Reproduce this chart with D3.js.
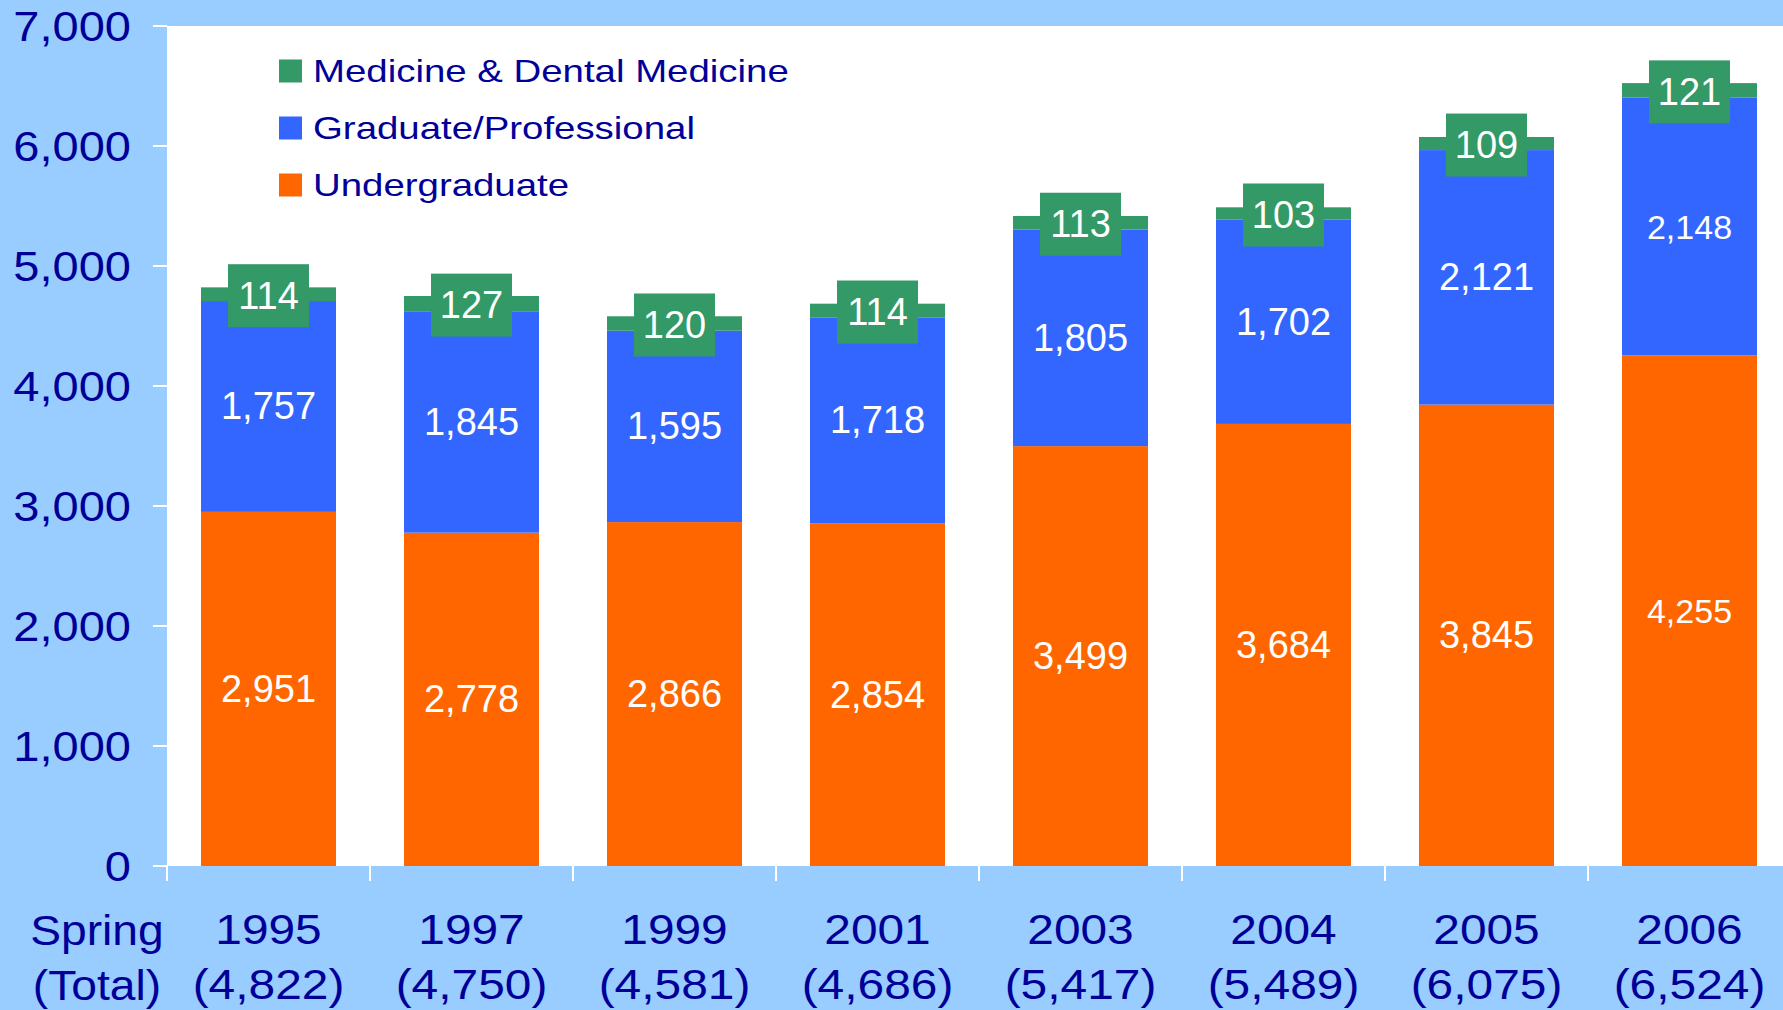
<!DOCTYPE html>
<meta charset="utf-8">
<script src="https://d3js.org/d3.v7.min.js"></script>
<style>
  body { margin: 0; background: #99ccff; }
  svg { display: block; font-family: "Liberation Sans", Arial, sans-serif; }
</style>
<div id="chart"></div>
<script>
  // data
  var years = ["1995", "1997", "1999", "2001", "2003", "2004", "2005", "2006"];
  var undergraduate = [2951, 2778, 2866, 2854, 3499, 3684, 3845, 4255];
  var graduate = [1757, 1845, 1595, 1718, 1805, 1702, 2121, 2148];
  var medicine = [114, 127, 120, 114, 113, 103, 109, 121];
  var yTicks = [0, 1000, 2000, 3000, 4000, 5000, 6000, 7000];

  var seriesNames = ["Undergraduate", "Graduate/Professional", "Medicine & Dental Medicine"];
  var colors = ["#ff6600", "#3366ff", "#339966"];
  var textColor = "#000099";

  var W = 1783, H = 1010;
  var plotLeft = 167, plotTop = 26, plotBottom = 866;
  var step = 203;

  var rows = years.map(function (y, i) {
    return { year: y, Undergraduate: undergraduate[i], "Graduate/Professional": graduate[i],
             "Medicine & Dental Medicine": medicine[i] };
  });
  var stacked = d3.stack().keys(seriesNames)(rows);

  var x = d3.scaleBand()
    .domain(years)
    .range([plotLeft, plotLeft + step * years.length])
    .paddingInner(0.335)
    .paddingOuter(0.1675);

  var y = d3.scaleLinear().domain([0, 7000]).range([plotBottom, plotTop]);

  var svg = d3.select("#chart").append("svg")
    .attr("width", W)
    .attr("height", H);

  svg.append("rect").attr("width", W).attr("height", H).attr("fill", "#99ccff");

  // plot area
  svg.append("rect")
    .attr("x", plotLeft).attr("y", plotTop)
    .attr("width", W - plotLeft).attr("height", plotBottom - plotTop)
    .attr("fill", "#ffffff");

  // text that is a bit wider than the font, like the original
  function wideText(g, tx, ty, str, size, anchor, sx) {
    g.append("text")
      .attr("transform", "translate(" + tx + "," + ty + ") scale(" + sx + ",1)")
      .attr("text-anchor", anchor)
      .attr("dominant-baseline", "central")
      .attr("fill", textColor)
      .style("font-size", size + "px")
      .text(str);
  }

  // y axis ticks + labels
  var yAxis = svg.append("g");
  yTicks.forEach(function (t) {
    yAxis.append("line")
      .attr("x1", plotLeft - 14).attr("x2", plotLeft)
      .attr("y1", y(t)).attr("y2", y(t))
      .attr("stroke", "#ffffff").attr("stroke-width", 2);
    wideText(yAxis, 131, y(t), d3.format(",")(t), 42, "end", 1.12);
  });

  // x axis ticks at band edges
  var xAxis = svg.append("g");
  years.forEach(function (yr, i) {
    var bx = x(yr) - x.paddingOuter() * x.step();
    xAxis.append("line")
      .attr("x1", bx).attr("x2", bx)
      .attr("y1", plotBottom).attr("y2", plotBottom + 15)
      .attr("stroke", "#ffffff").attr("stroke-width", 2);
    var cx = x(yr) + x.bandwidth() / 2;
    var total = undergraduate[i] + graduate[i] + medicine[i];
    wideText(xAxis, cx, 930, yr, 42, "middle", 1.14);
    wideText(xAxis, cx, 985, "(" + d3.format(",")(total) + ")", 42, "middle", 1.14);
  });
  wideText(xAxis, 97, 930, "Spring", 42, "middle", 1.1);
  wideText(xAxis, 97, 985, "(Total)", 42, "middle", 1.1);

  // bars
  stacked.forEach(function (layer, k) {
    svg.append("g").attr("fill", colors[k])
      .selectAll("rect")
      .data(layer)
      .join("rect")
      .attr("x", function (d) { return x(d.data.year); })
      .attr("width", x.bandwidth())
      .attr("y", function (d) { return y(d[1]); })
      .attr("height", function (d) { return y(d[0]) - y(d[1]); });
  });

  // value labels
  var labels = svg.append("g").attr("fill", "#ffffff");
  stacked.forEach(function (layer, k) {
    layer.forEach(function (d, i) {
      var cx = x(d.data.year) + x.bandwidth() / 2;
      var cy = (y(d[0]) + y(d[1])) / 2;
      var size = 38;
      if (k === 2) {
        cy += 1.5;
        labels.append("rect")
          .attr("x", cx - 40.5).attr("y", cy - 31.5)
          .attr("width", 81).attr("height", 63)
          .attr("fill", colors[2]);
      } else if (i === years.length - 1) {
        size = 34;
      }
      labels.append("text")
        .attr("x", cx).attr("y", cy)
        .attr("text-anchor", "middle")
        .attr("dominant-baseline", "central")
        .style("font-size", size + "px")
        .text(d3.format(",")(d[1] - d[0]));
    });
  });

  // legend
  var legend = svg.append("g");
  var legendOrder = [2, 1, 0];
  legendOrder.forEach(function (k, j) {
    var cy = 71 + j * 57;
    legend.append("rect")
      .attr("x", 279).attr("y", cy - 11.5)
      .attr("width", 23).attr("height", 23)
      .attr("fill", colors[k]);
    wideText(legend, 313, cy, seriesNames[k], 32, "start", 1.2);
  });
</script>
